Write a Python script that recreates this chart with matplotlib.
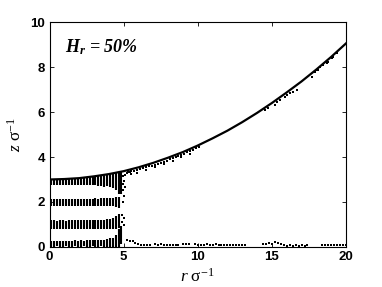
import numpy as np
import matplotlib
matplotlib.use("Agg")
import matplotlib.pyplot as plt

plt.rcParams["mathtext.fontset"] = "custom"
plt.rcParams["mathtext.rm"] = "Liberation Serif"
plt.rcParams["mathtext.it"] = "Liberation Serif:italic"
plt.rcParams["mathtext.bf"] = "Liberation Serif:bold"
plt.rcParams["mathtext.bfit"] = "Liberation Serif:bold:italic"

# surface profile (solid line)
curve_r = [0, 1, 2, 3, 4, 5, 6, 7, 8, 9, 10, 11, 12, 13, 14, 15, 16, 17, 18, 19, 20]
curve_z = [3.00, 3.02, 3.06, 3.14, 3.24, 3.37, 3.54, 3.74, 3.97, 4.22, 4.51,
           4.83, 5.17, 5.55, 5.96, 6.40, 6.87, 7.36, 7.89, 8.45, 9.05]

# layered particles inside the drop (vertical streaks)
bar_r = [0.1, 0.3, 0.5, 0.7, 0.9, 1.1, 1.3, 1.5, 1.7, 1.9, 2.1, 2.3,
         2.5, 2.7, 2.9, 3.1, 3.3, 3.5, 3.7, 3.9, 4.1, 4.3, 4.5, 4.7]
layer4_lo = [2.76, 2.75, 2.76, 2.76, 2.75, 2.76, 2.76, 2.75, 2.76, 2.75, 2.76, 2.75,
             2.76, 2.74, 2.76, 2.75, 2.72, 2.70, 2.68, 2.70, 2.65, 2.60, 2.55, 2.35]
layer4_hi = [2.99, 2.99, 3.00, 3.00, 3.00, 3.01, 3.02, 3.02, 3.03, 3.04, 3.05, 3.06,
             3.08, 3.09, 3.11, 3.13, 3.14, 3.16, 3.19, 3.21, 3.23, 3.26, 3.28, 3.30]
layer3_lo = [1.83, 1.83, 1.82, 1.83, 1.83, 1.82, 1.83, 1.83, 1.82, 1.83, 1.83, 1.82,
             1.83, 1.83, 1.82, 1.83, 1.82, 1.83, 1.82, 1.83, 1.80, 1.80, 1.78, 1.74]
layer3_hi = [2.14, 2.14, 2.15, 2.14, 2.14, 2.15, 2.14, 2.14, 2.15, 2.14, 2.15, 2.14,
             2.15, 2.14, 2.15, 2.16, 2.15, 2.16, 2.17, 2.17, 2.18, 2.19, 2.20, 2.22]
layer2_lo = [0.80, 0.80, 0.81, 0.80, 0.80, 0.81, 0.80, 0.80, 0.81, 0.80, 0.80, 0.81,
             0.80, 0.80, 0.81, 0.80, 0.80, 0.81, 0.80, 0.80, 0.80, 0.80, 0.82, 0.85]
layer2_hi = [1.18, 1.18, 1.17, 1.18, 1.18, 1.17, 1.18, 1.18, 1.18, 1.18, 1.19, 1.18,
             1.19, 1.19, 1.20, 1.20, 1.21, 1.22, 1.22, 1.24, 1.26, 1.30, 1.36, 1.45]
layer1_lo = [0.02, 0.02, 0.03, 0.02, 0.02, 0.03, 0.02, 0.02, 0.03, 0.02, 0.02, 0.03,
             0.02, 0.02, 0.03, 0.02, 0.02, 0.03, 0.02, 0.02, 0.02, 0.02, 0.02, 0.02]
layer1_hi = [0.28, 0.28, 0.27, 0.28, 0.28, 0.27, 0.28, 0.28, 0.29, 0.28, 0.29, 0.28,
             0.29, 0.30, 0.29, 0.30, 0.31, 0.32, 0.33, 0.35, 0.38, 0.42, 0.55, 0.80]

# long streaks at the contact line
edge_r = [4.85, 4.85]
edge_lo = [2.35, 0.15]
edge_hi = [3.32, 0.92]

# loose particles near the contact line
trans_r = [4.95, 5.10, 5.00, 4.95, 5.10, 4.95, 5.00, 4.95, 4.90, 5.00, 4.90, 5.05,
           5.20, 5.40, 5.60, 5.25, 5.40]
trans_z = [3.15, 3.22, 2.92, 2.78, 2.68, 2.55, 2.25, 2.02, 1.42, 1.28, 1.12, 0.98,
           0.30, 0.28, 0.26, 3.30, 3.32]

# particles along the free surface
surf_r = [5.3, 5.5, 5.7, 5.9, 6.1, 6.3, 6.5, 6.7, 6.9, 7.1, 7.3, 7.5, 7.7, 7.9,
          8.1, 8.3, 8.5, 8.7, 8.9, 9.1, 9.3, 9.5, 9.7, 9.9, 10.1,
          5.5, 5.9, 6.5, 7.1, 7.7, 8.3, 8.9, 9.5,
          14.54, 14.76, 15.21, 15.33, 15.55, 15.88, 16.0, 16.22, 16.45, 16.67,
          17.69, 17.91, 18.02, 18.13, 18.25, 18.47, 18.7, 18.81, 19.04, 19.15, 19.37]
surf_z = [3.32, 3.36, 3.39, 3.43, 3.46, 3.50, 3.54, 3.58, 3.62, 3.66, 3.70, 3.75,
          3.80, 3.84, 3.89, 3.94, 3.99, 4.04, 4.10, 4.15, 4.21, 4.26, 4.32, 4.38, 4.44,
          3.24, 3.31, 3.42, 3.54, 3.68, 3.82, 3.98, 4.14,
          6.09, 6.16, 6.31, 6.46, 6.53, 6.68, 6.76, 6.83, 6.90, 6.98,
          7.57, 7.79, 7.87, 7.87, 8.01, 8.09, 8.16, 8.24, 8.39, 8.46, 8.61]

# particles on the substrate
floor_r = [5.8, 6.0, 6.2, 6.4, 6.6, 6.8,
           7.1, 7.3, 7.5, 7.7, 7.9, 8.1, 8.3, 8.5, 8.7,
           9.0, 9.2, 9.4,
           9.8, 10.0, 10.2, 10.4, 10.6, 10.8, 11.0, 11.2,
           11.4, 11.6, 11.8, 12.0, 12.2, 12.4, 12.6, 12.8, 13.0, 13.2,
           14.4, 14.6, 14.8, 15.0, 15.2, 15.4, 15.6, 15.8, 16.0, 16.2, 16.4, 16.6,
           16.8, 17.0, 17.2, 17.4,
           18.4, 18.6, 18.8, 19.0, 19.2, 19.4, 19.6, 19.8, 20.0]
floor_z = [0.18, 0.12, 0.10, 0.08, 0.10, 0.08,
           0.12, 0.10, 0.12, 0.08, 0.10, 0.07, 0.10, 0.08, 0.10,
           0.15, 0.15, 0.15,
           0.14, 0.10, 0.10, 0.10, 0.12, 0.10, 0.10, 0.12,
           0.10, 0.10, 0.11, 0.10, 0.10, 0.11, 0.10, 0.10, 0.11, 0.10,
           0.15, 0.15, 0.17, 0.15, 0.20, 0.17, 0.15, 0.07, 0.06, 0.07, 0.06, 0.07,
           0.06, 0.07, 0.06, 0.07,
           0.10, 0.10, 0.10, 0.10, 0.10, 0.10, 0.10, 0.10, 0.10]

fig = plt.figure(figsize=(3.82, 2.87), dpi=100)
ax = fig.add_axes([0.1296, 0.1394, 0.7762, 0.7839])

for lo, hi in [(layer1_lo, layer1_hi), (layer2_lo, layer2_hi),
               (layer3_lo, layer3_hi), (layer4_lo, layer4_hi)]:
    ax.vlines(bar_r, lo, hi, colors="black", linewidth=1.5)
ax.vlines(edge_r, edge_lo, edge_hi, colors="black", linewidth=1.5)

ax.plot(trans_r, trans_z, "s", color="black", markersize=1.7, markeredgewidth=0)
ax.plot(surf_r, surf_z, "s", color="black", markersize=1.7, markeredgewidth=0)
ax.plot(floor_r, floor_z, "s", color="black", markersize=1.7, markeredgewidth=0)

ax.plot(curve_r, curve_z, "-", color="black", linewidth=1.6)

ax.set_xlim(0, 20)
ax.set_ylim(0, 10)
ax.set_xticks([0, 5, 10, 15, 20])
ax.set_yticks([0, 2, 4, 6, 8, 10])
ax.tick_params(direction="in", top=True, right=True, length=3, width=0.6,
               labelsize=9.5, pad=3)
for lab in ax.get_xticklabels() + ax.get_yticklabels():
    lab.set_fontfamily("Liberation Sans")
    lab.set_fontweight("bold")
for sp in ax.spines.values():
    sp.set_linewidth(0.8)

ax.set_xlabel(r"$r\ \mathrm{\sigma}^{-\mathit{1}}$", fontsize=12.5, labelpad=3,
              fontfamily="Liberation Serif")
ax.set_ylabel(r"$z\ \mathrm{\sigma}^{-\mathit{1}}$", fontsize=12.5, labelpad=4,
              fontfamily="Liberation Serif")

ax.text(0.052, 0.865, r"$\mathbfit{H_r}$ = 50%", transform=ax.transAxes,
        fontsize=13, fontfamily="Liberation Serif", fontweight="bold",
        fontstyle="italic")

fig.savefig("out.png", dpi=100)
